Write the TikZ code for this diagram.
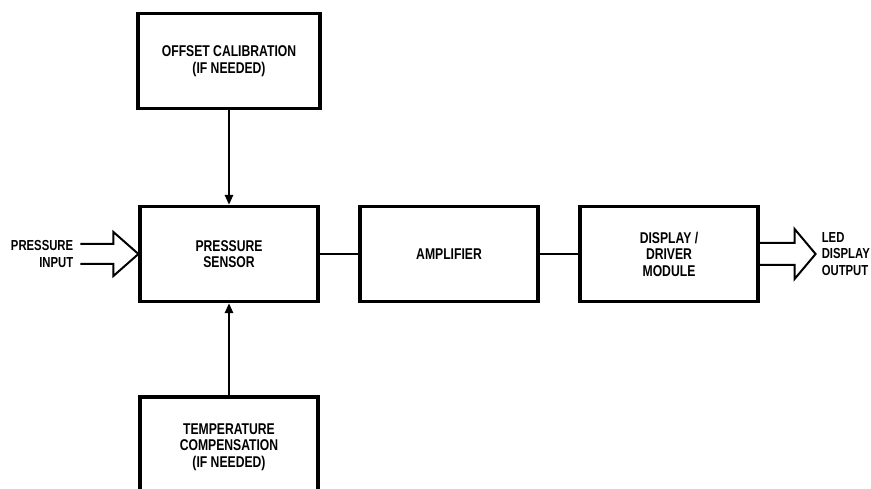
\documentclass[tikz,border=0pt]{standalone}
\usepackage{fontspec}
\setmainfont{Liberation Sans}[FakeStretch=0.78]
\usetikzlibrary{positioning, arrows.meta}

\begin{document}
\begin{tikzpicture} [x = 1pt, y = 1pt, node distance = 220pt, on grid,
    block/.style = {draw, line width = 3.2pt, minimum width = 178pt,
        minimum height = 95pt, align = center,
        font = \bfseries\fontsize{15.6}{16.5}\selectfont},
    txt/.style = {font = \bfseries\fontsize{14.5}{16.5}\selectfont, inner sep = 0pt},
    hollow/.style = {line width = 2pt, line join = miter},
    link/.style = {line width = 2.5pt}]
        \useasboundingbox (0,0) rectangle (871,489);
        \node (SENSOR)[block] at (229,235) {PRESSURE\\SENSOR};
        \node (AMP)[block, right = of SENSOR] {AMPLIFIER};
        \node (DISPLAY)[block, right = of AMP] {DISPLAY /\\DRIVER\\MODULE};
        \node (OFFSET)[block, minimum width = 182pt, above = 193pt of SENSOR]
        {OFFSET CALIBRATION\\(IF NEEDED)};
        \node (TEMP)[block, minimum height = 100pt, below = 193pt of SENSOR]
        {TEMPERATURE\\COMPENSATION\\(IF NEEDED)};
        % links between the blocks
        \draw [link, -{Triangle[length = 10pt, width = 8pt]}] (OFFSET) -- (SENSOR);
        \draw [link, -{Triangle[length = 10pt, width = 8pt]}] (TEMP) -- (SENSOR);
        \draw [link] (SENSOR) -- (AMP);
        \draw [link] (AMP) -- (DISPLAY);
        % input and output arrows
        \coordinate (IN) at ([xshift = -58pt]SENSOR.west);
        \draw [hollow] ([yshift = 10pt]IN) -- ++(33,0) -- ++(0,12) -- (SENSOR.west)
        -- ++(-25,-22) -- ++(0,12) -- ++(-33,0);
        \node (INLBL)[txt, align = right, on grid = false, left = 7pt of IN]
        {PRESSURE\\INPUT};
        \coordinate (OUT) at ([xshift = 56pt]DISPLAY.east);
        \draw [hollow] ([yshift = 11pt]DISPLAY.east) -- ++(35,0) -- ++(0,14) -- (OUT)
        -- ++(-21,-25) -- ++(0,14) -- ++(-35,0);
        \node (OUTLBL)[txt, align = left, on grid = false, right = 6pt of OUT]
        {LED\\DISPLAY\\OUTPUT};
    \end{tikzpicture}
\end{document}
